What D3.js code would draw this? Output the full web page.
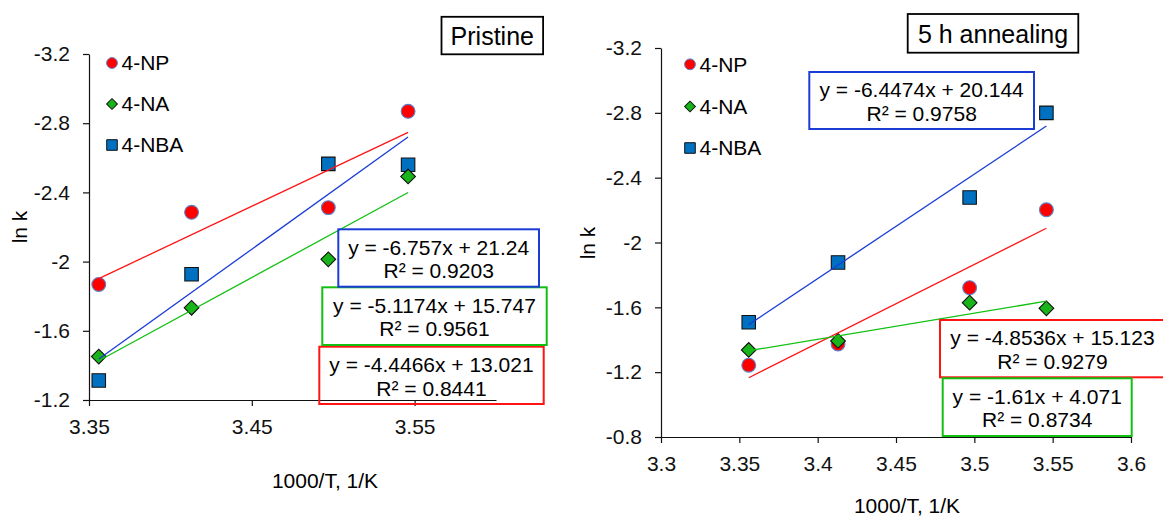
<!DOCTYPE html>
<html>
<head>
<meta charset="utf-8">
<script src="https://cdn.jsdelivr.net/npm/d3@7"></script>
<style>
  body { margin: 0; background: #fff; }
  svg text { font-family: "Liberation Sans", Arial, sans-serif; }
</style>
</head>
<body>
<div id="chart"></div>
<script>
var width = 1163,
    height = 518;

// 1000/T of the four temperatures, same in both panels
var invT = [3.356, 3.413, 3.497, 3.546];
var seriesNames = ["4-NP", "4-NA", "4-NBA"];

// ln k, pristine
var pristineNP = [-1.868, -2.285, -2.312, -2.869];
var pristineNA = [-1.451, -1.733, -2.013, -2.492];
var pristineNBA = [-1.313, -1.927, -2.565, -2.560];

// ln k, 5 h annealing
var annealNP = [-1.243, -1.374, -1.721, -2.202];
var annealNA = [-1.337, -1.393, -1.629, -1.594];
var annealNBA = [-1.508, -1.877, -2.278, -2.800];

// trendlines: slope, intercept, R2 (NP, NA, NBA)
var pristineSlope = [-4.4466, -5.1174, -6.757];
var pristineIntercept = [13.021, 15.747, 21.24];
var pristineR2 = ["0.8441", "0.9561", "0.9203"];
var annealSlope = [-4.8536, -1.61, -6.4474];
var annealIntercept = [15.123, 4.071, 20.144];
var annealR2 = ["0.9279", "0.8734", "0.9758"];

var pristineXTicks = [3.35, 3.45, 3.55];
var pristineXLabels = ["3.35", "3.45", "3.55"];
var pristineYTicks = [-3.2, -2.8, -2.4, -2, -1.6, -1.2];
var pristineYLabels = ["-3.2", "-2.8", "-2.4", "-2", "-1.6", "-1.2"];
var annealXTicks = [3.3, 3.35, 3.4, 3.45, 3.5, 3.55, 3.6];
var annealXLabels = ["3.3", "3.35", "3.4", "3.45", "3.5", "3.55", "3.6"];
var annealYTicks = [-3.2, -2.8, -2.4, -2, -1.6, -1.2, -0.8];
var annealYLabels = ["-3.2", "-2.8", "-2.4", "-2", "-1.6", "-1.2", "-0.8"];

var fillColors = ["#ff0000", "#19b419", "#0070c0"],
    fitColors = ["#ff1414", "#12c012", "#1c3cd6"],
    markerStroke = ["#5b80c8", "#111", "#111"],
    markerTypes = [d3.symbolCircle, d3.symbolSquare, d3.symbolSquare],
    markerRotate = [0, 45, 0],
    markerSize = [150, 108, 182],
    legendSize = [92, 58, 112],
    drawOrder = [0, 2, 1];

var panels = [
  {
    title: "Pristine",
    titleBox: [441.5, 16.8, 101.6, 37.5], titleBase: 45,
    xDomain: [3.35, 3.6], xRange: [89, 496],
    yDomain: [-3.2, -1.2], yRange: [54, 400],
    xTicks: pristineXTicks, xLabels: pristineXLabels,
    yTicks: pristineYTicks, yLabels: pristineYLabels,
    series: [pristineNP, pristineNA, pristineNBA],
    slope: pristineSlope, intercept: pristineIntercept, r2: pristineR2,
    fitBoxes: [[319.3, 346.7, 224.4, 57.3], [322.3, 287.3, 224.4, 57.7], [338.3, 229.3, 200.7, 57.4]],
    legendX: 112, legendY: [63, 104, 145],
    yTitle: [27, 227], xTitle: [325, 488]
  },
  {
    title: "5 h annealing",
    titleBox: [907.7, 14, 170.6, 38.7], titleBase: 43.3,
    xDomain: [3.3, 3.6], xRange: [661, 1131],
    yDomain: [-3.2, -0.8], yRange: [48, 437],
    xTicks: annealXTicks, xLabels: annealXLabels,
    yTicks: annealYTicks, yLabels: annealYLabels,
    series: [annealNP, annealNA, annealNBA],
    slope: annealSlope, intercept: annealIntercept, r2: annealR2,
    fitBoxes: [[940, 320, 225, 57.3], [942.7, 378.3, 189, 57.7], [809.3, 72, 224.7, 57]],
    legendX: 690, legendY: [64.3, 106.5, 148],
    yTitle: [595, 243], xTitle: [907, 513]
  }
];

var svg = d3.select("#chart").append("svg")
    .attr("width", width)
    .attr("height", height);

function symbolPath(i, size) {
  return d3.symbol().type(markerTypes[i]).size(size)();
}

panels.forEach(function(p) {
  var x = d3.scaleLinear().domain(p.xDomain).range(p.xRange),
      y = d3.scaleLinear().domain(p.yDomain).range(p.yRange);

  var g = svg.append("g");

  // axes
  var xAxis = g.append("g")
      .attr("transform", "translate(0," + p.yRange[1] + ")")
      .call(d3.axisBottom(x)
        .tickValues(p.xTicks)
        .tickFormat(function(d, i) { return p.xLabels[i]; })
        .tickSize(6).tickSizeOuter(0).tickPadding(13));

  var yAxis = g.append("g")
      .attr("transform", "translate(" + p.xRange[0] + ",0)")
      .call(d3.axisLeft(y)
        .tickValues(p.yTicks)
        .tickFormat(function(d, i) { return p.yLabels[i]; })
        .tickSize(6).tickSizeOuter(0).tickPadding(13));

  [xAxis, yAxis].forEach(function(a) {
    a.attr("color", "#111")
      .attr("font-size", 21)
      .attr("font-family", "Liberation Sans, Arial, sans-serif");
    a.selectAll("path, line").attr("stroke-width", 1.2);
  });

  g.append("text")
      .attr("transform", "translate(" + p.yTitle[0] + "," + p.yTitle[1] + ") rotate(-90)")
      .attr("text-anchor", "middle")
      .attr("font-size", 21)
      .text("ln k");

  g.append("text")
      .attr("x", p.xTitle[0])
      .attr("y", p.xTitle[1])
      .attr("text-anchor", "middle")
      .attr("font-size", 21)
      .text("1000/T, 1/K");

  // data markers
  drawOrder.forEach(function(i) {
    g.append("g").selectAll("path")
      .data(p.series[i])
      .enter().append("path")
        .attr("d", symbolPath(i, markerSize[i]))
        .attr("transform", function(d, j) {
          return "translate(" + x(invT[j]) + "," + y(d) + ") rotate(" + markerRotate[i] + ")";
        })
        .attr("fill", fillColors[i])
        .attr("stroke", markerStroke[i])
        .attr("stroke-width", 1.1);
  });

  // linear trendlines over the data range
  var ends = d3.extent(invT);
  p.slope.forEach(function(s, i) {
    var line = d3.line()
        .x(function(d) { return x(d); })
        .y(function(d) { return y(s * d + p.intercept[i]); });

    g.append("path")
        .datum(ends)
        .attr("fill", "none")
        .attr("stroke", fitColors[i])
        .attr("stroke-width", 1.3)
        .attr("d", line);
  });

  // equation boxes
  p.fitBoxes.forEach(function(b, i) {
    var box = g.append("g");
    box.append("rect")
        .attr("x", b[0]).attr("y", b[1])
        .attr("width", b[2]).attr("height", b[3])
        .attr("fill", "none")
        .attr("stroke", fitColors[i])
        .attr("stroke-width", 2);
    var eq = "y = " + p.slope[i] + "x + " + p.intercept[i];
    box.append("text")
        .attr("x", b[0] + b[2] / 2)
        .attr("y", b[1] + 25.3)
        .attr("text-anchor", "middle")
        .attr("font-size", 21)
        .text(eq);
    box.append("text")
        .attr("x", b[0] + b[2] / 2)
        .attr("y", b[1] + 49)
        .attr("text-anchor", "middle")
        .attr("font-size", 21)
        .text("R\u00b2 = " + p.r2[i]);
  });

  // legend
  seriesNames.forEach(function(name, i) {
    g.append("path")
        .attr("d", symbolPath(i, legendSize[i]))
        .attr("transform", "translate(" + p.legendX + "," + p.legendY[i] + ") rotate(" + markerRotate[i] + ")")
        .attr("fill", fillColors[i])
        .attr("stroke", markerStroke[i])
        .attr("stroke-width", 1);
    g.append("text")
        .attr("x", p.legendX + 9.5)
        .attr("y", p.legendY[i])
        .attr("dy", "0.35em")
        .attr("font-size", 21)
        .text(name);
  });

  // panel title
  g.append("rect")
      .attr("x", p.titleBox[0]).attr("y", p.titleBox[1])
      .attr("width", p.titleBox[2]).attr("height", p.titleBox[3])
      .attr("fill", "#fff")
      .attr("stroke", "#000")
      .attr("stroke-width", 1.8);
  g.append("text")
      .attr("x", p.titleBox[0] + p.titleBox[2] / 2)
      .attr("y", p.titleBase)
      .attr("text-anchor", "middle")
      .attr("font-size", 25)
      .text(p.title);
});
</script>
</body>
</html>
